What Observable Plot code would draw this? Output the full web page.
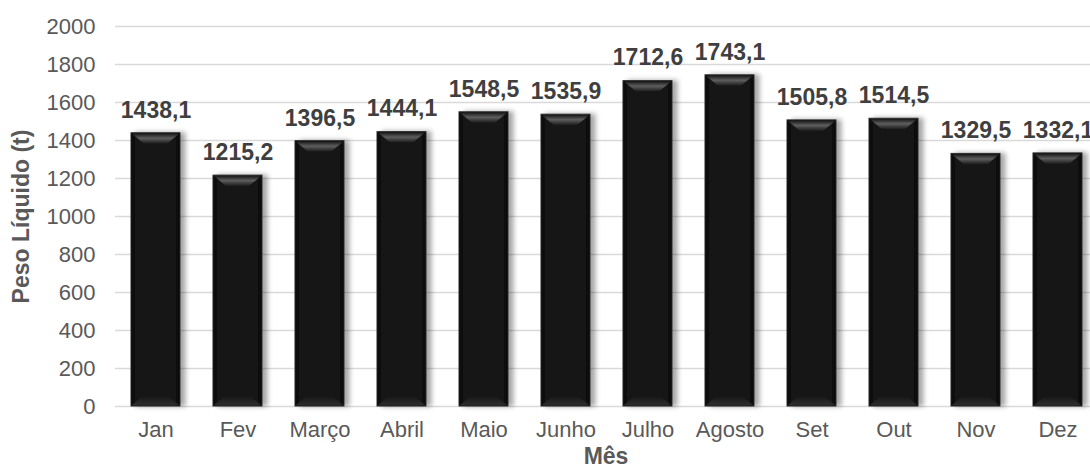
<!DOCTYPE html>
<html>
<head>
<meta charset="utf-8">
<script src="https://cdn.jsdelivr.net/npm/d3@7"></script>
<script src="https://cdn.jsdelivr.net/npm/@observablehq/plot@0.6"></script>
<style>
  html, body { margin: 0; padding: 0; background: #fff; overflow: hidden; }
  #chart { width: 1090px; height: 470px; }
</style>
</head>
<body>
<div id="chart"></div>
<script>
const months = ["Jan","Fev","Março","Abril","Maio","Junho","Julho","Agosto","Set","Out","Nov","Dez"];
const values = [1438.1,1215.2,1396.5,1444.1,1548.5,1535.9,1712.6,1743.1,1505.8,1514.5,1329.5,1332.1];
const yTicks = [0,200,400,600,800,1000,1200,1400,1600,1800,2000];
const xTitle = "Mês";
const yTitle = "Peso Líquido (t)";

const data = months.map((m, i) => ({month: m, value: values[i], label: values[i].toFixed(1).replace(".", ",")}));

const font = "'Liberation Sans', Arial, Helvetica, sans-serif";

const plot = Plot.plot({
  width: 1090,
  height: 470,
  marginTop: 26,
  marginBottom: 64,
  marginLeft: 115,
  marginRight: 0,
  style: {fontFamily: font, fontSize: "22px", color: "#595959", background: "#fff", overflow: "visible"},
  x: {type: "band", domain: months, range: [113, 1099], paddingInner: 0.405, paddingOuter: 0.194},
  y: {domain: [0, 2000]},
  marks: [
    Plot.ruleY(yTicks, {stroke: "#d9d9d9", strokeWidth: 1.5}),
    Plot.barY(data, {x: "month", y: "value", fill: "url(#barGrad)", stroke: "#2e2e2e", strokeWidth: 1}),
    Plot.text(data, {x: "month", y: "value", text: "label", dy: -23, fontSize: 23, fontWeight: "bold", fill: "#3f3f3f"}),
    Plot.axisX({tickSize: 0, tickPadding: 15, fontSize: 22, label: null}),
    Plot.axisY({ticks: yTicks, tickSize: 0, tickPadding: 20, fontSize: 22, tickFormat: d => String(d), label: null}),
    Plot.text([yTitle], {frameAnchor: "left", textAnchor: "middle", lineAnchor: "middle", dx: -94, rotate: -90, fontSize: 23, fontWeight: "bold", fill: "#595959"}),
    Plot.text([xTitle], {frameAnchor: "bottom", textAnchor: "middle", lineAnchor: "middle", dy: 50, dx: 3, fontSize: 23, fontWeight: "bold", fill: "#595959"})
  ]
});

document.getElementById("chart").appendChild(plot);

// Styling: gradients, bevels and drop shadow derived from the rendered bars
const svg = d3.select(plot);
const defs = svg.insert("defs", ":first-child");
const g1 = defs.append("linearGradient").attr("id", "barGrad").attr("x1", "0").attr("x2", "1").attr("y1", "0").attr("y2", "0");
[["0%", "#020202"], ["10%", "#151515"], ["50%", "#141414"], ["90%", "#151515"], ["100%", "#020202"]]
  .forEach(([o, c]) => g1.append("stop").attr("offset", o).attr("stop-color", c));
const g2 = defs.append("linearGradient").attr("id", "bevelGrad").attr("x1", "0").attr("x2", "0").attr("y1", "0").attr("y2", "1");
[["0%", "#1c1c1c"], ["45%", "#5e5e5e"], ["100%", "#1a1a1a"]]
  .forEach(([o, c]) => g2.append("stop").attr("offset", o).attr("stop-color", c));
const g3 = defs.append("linearGradient").attr("id", "bevelBot").attr("x1", "0").attr("x2", "0").attr("y1", "0").attr("y2", "1");
[["0%", "#141414"], ["100%", "#2c2c2c"]]
  .forEach(([o, c]) => g3.append("stop").attr("offset", o).attr("stop-color", c));
const f = defs.append("filter").attr("id", "barShadow").attr("x", "-20%").attr("y", "-5%").attr("width", "140%").attr("height", "110%");
f.append("feDropShadow").attr("dx", 5).attr("dy", 0).attr("stdDeviation", 2.5).attr("flood-color", "#000").attr("flood-opacity", 0.35);

const barG = svg.select("g[aria-label='bar']");
barG.attr("filter", "url(#barShadow)");
const bevelG = svg.append("g").attr("aria-label", "bevel");
barG.selectAll("rect").each(function() {
  const x = +this.getAttribute("x"), y = +this.getAttribute("y");
  const w = +this.getAttribute("width"), h = +this.getAttribute("height");
  const inset = 13, bh = 11;
  bevelG.append("polygon")
    .attr("points", [[x + 1, y + 1], [x + w - 1, y + 1], [x + w - inset, y + bh], [x + inset, y + bh]].map(p => p.join(",")).join(" "))
    .attr("fill", "url(#bevelGrad)");
  bevelG.append("polygon")
    .attr("points", [[x + inset, y + h - bh], [x + w - inset, y + h - bh], [x + w - 1, y + h - 1], [x + 1, y + h - 1]].map(p => p.join(",")).join(" "))
    .attr("fill", "url(#bevelBot)");
});
// keep labels on top
svg.selectAll("g[aria-label='text']").raise();
</script>
</body>
</html>
